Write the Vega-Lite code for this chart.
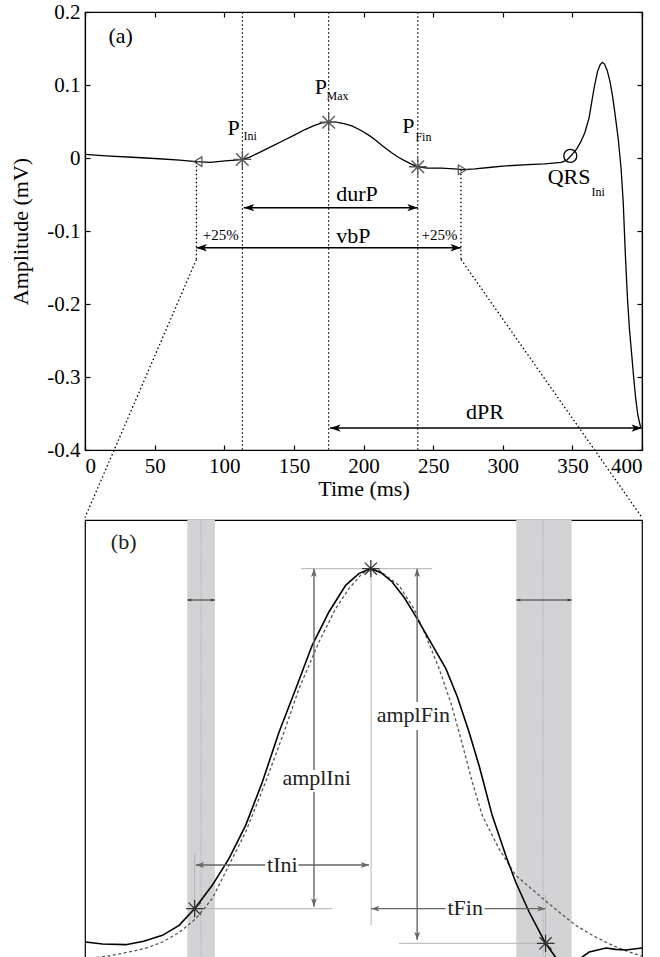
{
  "$schema": "https://vega.github.io/schema/vega-lite/v6.json",
  "padding": {"left": 9, "top": 0, "right": 10, "bottom": 0},
  "background": "white",
  "spacing": 0,
  "config": {
    "font": "Liberation Serif",
    "view": {"stroke": "black", "strokeWidth": 1.2},
    "axis": {"grid": false, "domainColor": "black", "domainWidth": 1.2, "tickColor": "black", "tickWidth": 1.2, "tickSize": -5, "labelPadding": 10, "labelFont": "Liberation Serif", "labelFontSize": 21, "labelFontWeight": "normal", "labelColor": "black", "titleFont": "Liberation Serif", "titleFontSize": 22, "titleFontWeight": "normal", "titleColor": "black"},
    "text": {"font": "Liberation Serif", "color": "black"}
  },
  "datasets": {
    "ecg": [
      {"x": 0, "y": 0.005}, {"x": 15, "y": 0.003}, {"x": 34, "y": 0.001}, {"x": 53, "y": -0.001}, {"x": 68, "y": -0.003}, {"x": 80, "y": -0.005}, {"x": 90, "y": -0.006}, {"x": 100.7, "y": -0.004}, {"x": 108, "y": -0.003}, {"x": 113, "y": -0.002},
      {"x": 118, "y": 0.001}, {"x": 124.7, "y": 0.007}, {"x": 133, "y": 0.015}, {"x": 143.7, "y": 0.025}, {"x": 151, "y": 0.032}, {"x": 158, "y": 0.039}, {"x": 164, "y": 0.044}, {"x": 170, "y": 0.048}, {"x": 175, "y": 0.049}, {"x": 180, "y": 0.049},
      {"x": 186, "y": 0.047}, {"x": 191.6, "y": 0.044}, {"x": 198, "y": 0.038}, {"x": 204, "y": 0.031}, {"x": 208.3, "y": 0.025}, {"x": 214, "y": 0.016}, {"x": 220, "y": 0.0075}, {"x": 225, "y": 0.001}, {"x": 229.8, "y": -0.004}, {"x": 234, "y": -0.008}, {"x": 239, "y": -0.012},
      {"x": 246, "y": -0.014}, {"x": 256, "y": -0.014}, {"x": 265, "y": -0.015}, {"x": 272, "y": -0.016}, {"x": 280, "y": -0.015}, {"x": 290, "y": -0.013}, {"x": 300, "y": -0.011}, {"x": 318, "y": -0.009}, {"x": 330, "y": -0.008}, {"x": 342, "y": -0.006},
      {"x": 346, "y": -0.003}, {"x": 349, "y": 0.003}, {"x": 353, "y": 0.012}, {"x": 356, "y": 0.022}, {"x": 359, "y": 0.035}, {"x": 362, "y": 0.055}, {"x": 364, "y": 0.078}, {"x": 366, "y": 0.1}, {"x": 368, "y": 0.118}, {"x": 370, "y": 0.128}, {"x": 371.5, "y": 0.131},
      {"x": 373, "y": 0.129}, {"x": 375, "y": 0.12}, {"x": 377, "y": 0.105}, {"x": 379, "y": 0.083}, {"x": 381, "y": 0.055}, {"x": 383, "y": 0.025}, {"x": 385, "y": -0.015}, {"x": 386.5, "y": -0.06}, {"x": 388, "y": -0.13}, {"x": 389.5, "y": -0.19},
      {"x": 391, "y": -0.235}, {"x": 392.5, "y": -0.267}, {"x": 394, "y": -0.3}, {"x": 395.5, "y": -0.33}, {"x": 397, "y": -0.352}, {"x": 399, "y": -0.369}
    ],
    "pa_vlines": [{"x": 113, "y": 0.2, "y2": -0.4}, {"x": 175, "y": 0.2, "y2": -0.4}, {"x": 239, "y": 0.2, "y2": -0.4}],
    "pa_conn": [
      {"x": 80, "y": -0.005, "x2": 80, "y2": -0.139},
      {"x": 80, "y": -0.139, "x2": 0, "y2": -0.4925},
      {"x": 270, "y": -0.016, "x2": 270, "y2": -0.139},
      {"x": 270, "y": -0.139, "x2": 400, "y2": -0.4925}
    ],
    "pa_arrows": [
      {"x": 114, "x2": 239, "y": -0.068},
      {"x": 80, "x2": 270, "y": -0.123},
      {"x": 176, "x2": 400, "y": -0.37}
    ],
    "pa_heads": [
      {"x": 114, "y": -0.068, "dir": "left"}, {"x": 239, "y": -0.068, "dir": "right"},
      {"x": 80, "y": -0.123, "dir": "left"}, {"x": 270, "y": -0.123, "dir": "right"},
      {"x": 176, "y": -0.37, "dir": "left"}, {"x": 400, "y": -0.37, "dir": "right"}
    ],
    "pa_stars": [{"x": 113, "y": -0.002}, {"x": 175, "y": 0.049}, {"x": 239, "y": -0.012}],
    "pa_tri_l": [{"x": 81, "y": -0.005}],
    "pa_tri_r": [{"x": 271, "y": -0.016}],
    "pa_qrs": [{"x": 348.5, "y": 0.003}],
    "pa_labels": [
      {"x": 25.6, "y": 0.157, "label": "(a)"},
      {"x": 106.7, "y": 0.032, "label": "P"},
      {"x": 169.4, "y": 0.087, "label": "P"},
      {"x": 232.2, "y": 0.0345, "label": "P"},
      {"x": 347.6, "y": -0.0353, "label": "QRS"},
      {"x": 195.3, "y": -0.059, "label": "durP"},
      {"x": 192.7, "y": -0.116, "label": "vbP"},
      {"x": 287.2, "y": -0.358, "label": "dPR"}
    ],
    "pa_subs": [
      {"x": 118.7, "y": 0.025, "label": "Ini"},
      {"x": 181.4, "y": 0.08, "label": "Max"},
      {"x": 243, "y": 0.023, "label": "Fin"},
      {"x": 368.5, "y": -0.0523, "label": "Ini"}
    ],
    "pa_pct": [
      {"x": 97.5, "y": -0.112, "label": "+25%"},
      {"x": 254.6, "y": -0.112, "label": "+25%"}
    ],
    "pb_bands": [{"x": 114.9, "x2": 124.3}, {"x": 227.1, "x2": 246}],
    "pb_centers": [{"x": 119.6}, {"x": 236.3}],
    "pb_solid": [
      {"x": 80.2, "y": -7.3}, {"x": 86, "y": -7.6}, {"x": 93.9, "y": -7.7}, {"x": 100, "y": -7.2}, {"x": 106.4, "y": -6.3}, {"x": 112.1, "y": -4.8}, {"x": 117.4, "y": -2.3}, {"x": 123.4, "y": 1.2}, {"x": 129.1, "y": 5.2}, {"x": 134.8, "y": 10.2},
      {"x": 140.5, "y": 16.7}, {"x": 146.2, "y": 24.2}, {"x": 151.9, "y": 30.7}, {"x": 157.5, "y": 37.2}, {"x": 163.2, "y": 42.2}, {"x": 168.9, "y": 46.2}, {"x": 173.5, "y": 48}, {"x": 177.5, "y": 48.7}, {"x": 181, "y": 48.1}, {"x": 184.8, "y": 46.7},
      {"x": 189, "y": 44.3}, {"x": 193.3, "y": 41.2}, {"x": 198, "y": 37.6}, {"x": 203.1, "y": 33.7}, {"x": 207, "y": 29.5}, {"x": 211, "y": 24.2}, {"x": 214.4, "y": 19.2}, {"x": 218.9, "y": 11.7}, {"x": 223.5, "y": 5.7}, {"x": 226.9, "y": 1.7},
      {"x": 231.5, "y": -2.8}, {"x": 237.1, "y": -7.5}, {"x": 241.7, "y": -10.3}, {"x": 244.5, "y": -11}, {"x": 247.5, "y": -10.2}, {"x": 252, "y": -8.8}, {"x": 257.7, "y": -8.2}, {"x": 261, "y": -8.4}, {"x": 264.5, "y": -8.5}, {"x": 270, "y": -8.2}
    ],
    "pb_fit": [
      {"x": 80.2, "y": -9.8}, {"x": 88, "y": -9.4}, {"x": 95, "y": -8.8}, {"x": 101, "y": -8.2}, {"x": 106.4, "y": -7.3}, {"x": 112, "y": -5.9}, {"x": 117.8, "y": -3.8}, {"x": 123.4, "y": -0.8}, {"x": 129.1, "y": 4.2}, {"x": 134.8, "y": 9.2},
      {"x": 141.6, "y": 16.7}, {"x": 147.9, "y": 24.2}, {"x": 153, "y": 30.7}, {"x": 159.8, "y": 37.7}, {"x": 165.5, "y": 42.7}, {"x": 170, "y": 45.7}, {"x": 174.6, "y": 48}, {"x": 177.5, "y": 48.5}, {"x": 180.3, "y": 48.45}, {"x": 187.1, "y": 46.2},
      {"x": 192.2, "y": 42.7}, {"x": 196.2, "y": 38.7}, {"x": 200.8, "y": 33.7}, {"x": 204.7, "y": 28.7}, {"x": 207.6, "y": 24.2}, {"x": 212.1, "y": 16.7}, {"x": 215.5, "y": 11.7}, {"x": 221.2, "y": 6.7}, {"x": 226.9, "y": 2.7}, {"x": 234.9, "y": -0.3},
      {"x": 241.7, "y": -2.8}, {"x": 247.4, "y": -4.8}, {"x": 253.5, "y": -6.4}, {"x": 259.9, "y": -7.8}, {"x": 265, "y": -8.7}, {"x": 269.9, "y": -9.4}
    ],
    "pb_thin": [
      {"x": 153.7, "y": 48.7, "x2": 198.4, "y2": 48.7},
      {"x": 177.6, "y": 48.7, "x2": 177.6, "y2": -4.75},
      {"x": 117.2, "y": -2.3, "x2": 164.3, "y2": -2.3},
      {"x": 117.4, "y": 5.9, "x2": 117.4, "y2": -2.5},
      {"x": 187.1, "y": -7.5, "x2": 240.7, "y2": -7.5},
      {"x": 237.1, "y": -0.25, "x2": 237.1, "y2": -9.8}
    ],
    "pb_alines": [
      {"x": 158.1, "y": 48.7, "x2": 158.1, "y2": 18.5},
      {"x": 158.1, "y": 15.2, "x2": 158.1, "y2": -2},
      {"x": 193.3, "y": 48.7, "x2": 193.3, "y2": 28.7},
      {"x": 193.3, "y": 24.5, "x2": 193.3, "y2": -7},
      {"x": 117.8, "y": 4.25, "x2": 141.5, "y2": 4.25},
      {"x": 152.8, "y": 4.25, "x2": 176.9, "y2": 4.25},
      {"x": 177.6, "y": -2.3, "x2": 203, "y2": -2.3},
      {"x": 216.3, "y": -2.3, "x2": 237.1, "y2": -2.3}
    ],
    "pb_heads": [
      {"x": 158.1, "y": 48.7, "dir": "up"}, {"x": 158.1, "y": -2, "dir": "down"},
      {"x": 193.3, "y": 48.7, "dir": "up"}, {"x": 193.3, "y": -7, "dir": "down"},
      {"x": 117.8, "y": 4.25, "dir": "left"}, {"x": 176.9, "y": 4.25, "dir": "right"},
      {"x": 177.6, "y": -2.3, "dir": "left"}, {"x": 237.1, "y": -2.3, "dir": "right"}
    ],
    "pb_bandarrows": [{"x": 114.9, "x2": 124.3, "y": 44}, {"x": 227.1, "x2": 246, "y": 44}],
    "pb_bandheads": [
      {"x": 114.9, "y": 44, "dir": "left"}, {"x": 124.3, "y": 44, "dir": "right"},
      {"x": 227.1, "y": 44, "dir": "left"}, {"x": 246, "y": 44, "dir": "right"}
    ],
    "pb_stars": [{"x": 117.4, "y": -2.3}, {"x": 177.5, "y": 48.7}, {"x": 237.1, "y": -7.5}],
    "pb_labels": [
      {"x": 93.2, "y": 51.6, "label": "(b)"},
      {"x": 159, "y": 16.25, "label": "amplIni"},
      {"x": 192, "y": 25.7, "label": "amplFin"},
      {"x": 147.3, "y": 3.2, "label": "tIni"},
      {"x": 209.7, "y": -3.2, "label": "tFin"}
    ]
  },
  "vconcat": [
    {
      "width": 557,
      "height": 438,
      "encoding": {
        "x": {"field": "x", "type": "quantitative", "scale": {"domain": [0, 400], "nice": false, "zero": false}, "axis": null},
        "y": {"field": "y", "type": "quantitative", "scale": {"domain": [-0.4, 0.2], "nice": false, "zero": false}, "axis": null}
      },
      "layer": [
        {"data": {"name": "pa_vlines"}, "mark": {"type": "rule", "color": "black", "strokeWidth": 0.9, "strokeDash": [2, 2]},
         "encoding": {
           "x": {"field": "x", "type": "quantitative", "scale": {"domain": [0, 400], "nice": false, "zero": false},
                 "axis": {"orient": "bottom", "values": [0, 50, 100, 150, 200, 250, 300, 350, 400], "title": "Time (ms)", "titlePadding": 2}},
           "y": {"field": "y", "type": "quantitative", "scale": {"domain": [-0.4, 0.2], "nice": false, "zero": false},
                 "axis": {"orient": "left", "values": [-0.4, -0.3, -0.2, -0.1, 0, 0.1, 0.2], "title": "Amplitude (mV)", "titlePadding": 14,
                          "labelExpr": "datum.value < 0 ? '-' + format(-datum.value, '~g') : format(datum.value, '~g')"}},
           "y2": {"field": "y2"}}},
        {"data": {"name": "pa_conn"}, "mark": {"type": "rule", "color": "black", "strokeWidth": 1.3, "strokeDash": [1.5, 2.5]},
         "encoding": {"x2": {"field": "x2"}, "y2": {"field": "y2"}}},
        {"data": {"name": "pa_arrows"}, "mark": {"type": "rule", "color": "black", "strokeWidth": 1.5},
         "encoding": {"x2": {"field": "x2"}}},
        {"data": {"name": "pa_heads"}, "mark": {"type": "point", "filled": true, "color": "black", "size": 110, "opacity": 1},
         "encoding": {"shape": {"field": "dir", "type": "nominal", "legend": null,
           "scale": {"domain": ["left", "right", "up", "down"], "range": ["M0,0L2,-0.7L1.5,0L2,0.7Z", "M0,0L-2,-0.7L-1.5,0L-2,0.7Z", "M0,0L-0.7,2L0,1.5L0.7,2Z", "M0,0L-0.7,-2L0,-1.5L0.7,-2Z"]}}}},
        {"data": {"name": "ecg"}, "mark": {"type": "line", "color": "black", "strokeWidth": 1.3},
         "encoding": {
           "x": {"field": "x", "type": "quantitative", "scale": {"domain": [0, 400], "nice": false, "zero": false},
                 "axis": {"orient": "top", "values": [0, 50, 100, 150, 200, 250, 300, 350, 400], "labels": false, "title": null}},
           "y": {"field": "y", "type": "quantitative", "scale": {"domain": [-0.4, 0.2], "nice": false, "zero": false},
                 "axis": {"orient": "right", "values": [-0.4, -0.3, -0.2, -0.1, 0, 0.1, 0.2], "labels": false, "title": null}}
         }},
        {"data": {"name": "pa_tri_l"}, "mark": {"type": "point", "shape": "triangle-left", "filled": false, "color": "#555", "size": 90, "strokeWidth": 1.2, "opacity": 1}},
        {"data": {"name": "pa_tri_r"}, "mark": {"type": "point", "shape": "triangle-right", "filled": false, "color": "#555", "size": 90, "strokeWidth": 1.2, "opacity": 1}},
        {"data": {"name": "pa_stars"}, "mark": {"type": "point", "shape": "M-1,0L1,0M0,-1L0,1M-0.7,-0.7L0.7,0.7M-0.7,0.7L0.7,-0.7", "filled": false, "color": "#555", "size": 320, "strokeWidth": 1.3, "opacity": 1}},
        {"data": {"name": "pa_qrs"}, "mark": {"type": "point", "shape": "circle", "filled": false, "color": "black", "size": 170, "strokeWidth": 1.3, "opacity": 1}},
        {"data": {"name": "pa_labels"}, "mark": {"type": "text", "fontSize": 22, "align": "center", "baseline": "alphabetic"},
         "encoding": {"text": {"field": "label"}}},
        {"data": {"name": "pa_subs"}, "mark": {"type": "text", "fontSize": 12, "align": "center", "baseline": "alphabetic"},
         "encoding": {"text": {"field": "label"}}},
        {"data": {"name": "pa_pct"}, "mark": {"type": "text", "fontSize": 15, "align": "center", "baseline": "alphabetic"},
         "encoding": {"text": {"field": "label"}}}
      ]
    },
    {
      "width": 557,
      "height": 440,
      "encoding": {
        "x": {"field": "x", "type": "quantitative", "scale": {"domain": [80, 270], "nice": false, "zero": false}, "axis": null}
      },
      "layer": [
        {"data": {"name": "pb_bands"}, "mark": {"type": "rect", "color": "#d3d3d5"},
         "encoding": {"x2": {"field": "x2"}}},
        {"data": {"name": "pb_centers"}, "mark": {"type": "rule", "color": "#999", "strokeWidth": 0.8, "strokeDash": [1, 1.5]}},
        {"data": {"name": "pb_thin"}, "mark": {"type": "rule", "color": "#b4b4b4", "strokeWidth": 1},
         "encoding": {"y": {"field": "y", "type": "quantitative", "scale": {"domain": [-10, 56], "nice": false, "zero": false}, "axis": null},
                      "x2": {"field": "x2"}, "y2": {"field": "y2"}}},
        {"data": {"name": "pb_fit"}, "mark": {"type": "line", "color": "#555", "strokeWidth": 1.3, "strokeDash": [3, 2.5], "clip": true},
         "encoding": {"y": {"field": "y", "type": "quantitative", "scale": {"domain": [-10, 56], "nice": false, "zero": false}, "axis": null}}},
        {"data": {"name": "pb_solid"}, "mark": {"type": "line", "color": "black", "strokeWidth": 1.6, "clip": true},
         "encoding": {"y": {"field": "y", "type": "quantitative", "scale": {"domain": [-10, 56], "nice": false, "zero": false}, "axis": null}}},
        {"data": {"name": "pb_alines"}, "mark": {"type": "rule", "color": "#666", "strokeWidth": 1.4},
         "encoding": {"y": {"field": "y", "type": "quantitative", "scale": {"domain": [-10, 56], "nice": false, "zero": false}, "axis": null},
                      "x2": {"field": "x2"}, "y2": {"field": "y2"}}},
        {"data": {"name": "pb_heads"}, "mark": {"type": "point", "filled": true, "color": "#666", "size": 70, "opacity": 1},
         "encoding": {"y": {"field": "y", "type": "quantitative", "scale": {"domain": [-10, 56], "nice": false, "zero": false}, "axis": null},
           "shape": {"field": "dir", "type": "nominal", "legend": null,
           "scale": {"domain": ["left", "right", "up", "down"], "range": ["M0,0L2,-0.7L1.5,0L2,0.7Z", "M0,0L-2,-0.7L-1.5,0L-2,0.7Z", "M0,0L-0.7,2L0,1.5L0.7,2Z", "M0,0L-0.7,-2L0,-1.5L0.7,-2Z"]}}}},
        {"data": {"name": "pb_bandarrows"}, "mark": {"type": "rule", "color": "#333", "strokeWidth": 1},
         "encoding": {"y": {"field": "y", "type": "quantitative", "scale": {"domain": [-10, 56], "nice": false, "zero": false}, "axis": null},
                      "x2": {"field": "x2"}}},
        {"data": {"name": "pb_bandheads"}, "mark": {"type": "point", "filled": true, "color": "#333", "size": 20, "opacity": 1},
         "encoding": {"y": {"field": "y", "type": "quantitative", "scale": {"domain": [-10, 56], "nice": false, "zero": false}, "axis": null},
           "shape": {"field": "dir", "type": "nominal", "legend": null,
           "scale": {"domain": ["left", "right", "up", "down"], "range": ["M0,0L2,-0.7L1.5,0L2,0.7Z", "M0,0L-2,-0.7L-1.5,0L-2,0.7Z", "M0,0L-0.7,2L0,1.5L0.7,2Z", "M0,0L-0.7,-2L0,-1.5L0.7,-2Z"]}}}},
        {"data": {"name": "pb_stars"}, "mark": {"type": "point", "shape": "M-1,0L1,0M0,-1L0,1M-0.7,-0.7L0.7,0.7M-0.7,0.7L0.7,-0.7", "filled": false, "color": "#333", "size": 300, "strokeWidth": 1.3, "opacity": 1},
         "encoding": {"y": {"field": "y", "type": "quantitative", "scale": {"domain": [-10, 56], "nice": false, "zero": false}, "axis": null}}},
        {"data": {"name": "pb_labels"}, "mark": {"type": "text", "fontSize": 22, "align": "center", "baseline": "alphabetic", "color": "#222"},
         "encoding": {"y": {"field": "y", "type": "quantitative", "scale": {"domain": [-10, 56], "nice": false, "zero": false}, "axis": null},
                      "text": {"field": "label"}}}
      ]
    }
  ]
}
